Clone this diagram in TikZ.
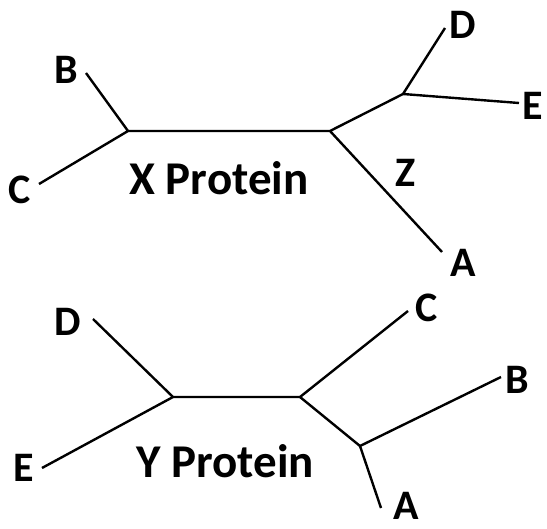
\documentclass[tikz,border=0pt]{standalone}
\usepackage{fontspec}
\setmainfont{Carlito}
\usetikzlibrary{positioning}

\begin{document}
\begin{tikzpicture}[x=1pt, y=-1pt, line width=2.4pt,
    lbl/.style={font=\fontsize{42}{42}\selectfont\bfseries, inner sep=0pt},
    title/.style={font=\fontsize{47}{47}\selectfont\bfseries, inner sep=0pt}]
    \useasboundingbox (0,0) rectangle (547,529);

    % Protéine X
    \coordinate (xl) at (128,131);
    \coordinate (xr) at (330,131);
    \coordinate (xde) at (403,94);
    \coordinate (xB) at (86,73);
    \coordinate (xC) at (39,184);
    \coordinate (xD) at (445,28);
    \coordinate (xE) at (519,103);
    \coordinate (xA) at (442,252);
    \node[lbl] (lxB) at (66,70) {B};
    \node[lbl] (lxC) at (20,190) {C};
    \node[lbl] (lxD) at (463,25) {D};
    \node[lbl] (lxE) at (533,106) {E};
    \node[lbl] (lxA) at (463,263) {A};
    \node[lbl] (lxZ) at (406,173) {Z};
    \node[title] (xname) at (219,178) {X Protein};

    \draw (xB) -- (xl) -- (xC);
    \draw (xl) -- (xr) -- (xde);
    \draw (xD) -- (xde) -- (xE);
    \draw (xr) -- (xA);

    % Protéine Y
    \coordinate (yl) at (173,397);
    \coordinate (yr) at (300,397);
    \coordinate (yab) at (360,446);
    \coordinate (yD) at (93,319);
    \coordinate (yE) at (42,468);
    \coordinate (yC) at (408,311);
    \coordinate (yB) at (501,377);
    \coordinate (yA) at (381,508);
    \node[lbl] (lyD) at (68,322) {D};
    \node[lbl] (lyE) at (24,468) {E};
    \node[lbl] (lyC) at (427,308) {C};
    \node[lbl] (lyB) at (517,380) {B};
    \node[lbl] (lyA) at (406,506) {A};
    \node[title] (yname) at (225,461) {Y Protein};

    \draw (yD) -- (yl) -- (yE);
    \draw (yl) -- (yr) -- (yC);
    \draw (yr) -- (yab) -- (yB);
    \draw (yab) -- (yA);
\end{tikzpicture}
\end{document}
